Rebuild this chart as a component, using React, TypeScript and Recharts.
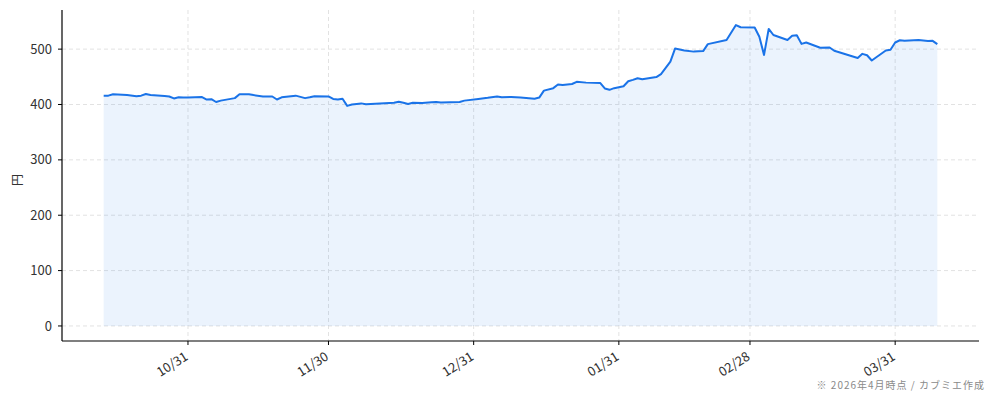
import {
  ComposedChart,
  Area,
  Line,
  XAxis,
  YAxis,
  CartesianGrid,
  Label,
} from 'recharts';

// 終値（円）: 2025/10 〜 2026/04
const dates = [
  '2025-10-13', '2025-10-14', '2025-10-15', '2025-10-18', '2025-10-20', '2025-10-21',
  '2025-10-22', '2025-10-23', '2025-10-26', '2025-10-27', '2025-10-28', '2025-10-29',
  '2025-10-30', '2025-10-31', '2025-11-03', '2025-11-04', '2025-11-05', '2025-11-06',
  '2025-11-07', '2025-11-10', '2025-11-11', '2025-11-13', '2025-11-14', '2025-11-16',
  '2025-11-18', '2025-11-19', '2025-11-20', '2025-11-23', '2025-11-25', '2025-11-26',
  '2025-11-27', '2025-11-30', '2025-12-01', '2025-12-02', '2025-12-03', '2025-12-04',
  '2025-12-05', '2025-12-07', '2025-12-08', '2025-12-10', '2025-12-14', '2025-12-15',
  '2025-12-16', '2025-12-17', '2025-12-18', '2025-12-20', '2025-12-22', '2025-12-23',
  '2025-12-24', '2025-12-28', '2025-12-29', '2026-01-01', '2026-01-03', '2026-01-05',
  '2026-01-06', '2026-01-08', '2026-01-10', '2026-01-13', '2026-01-14', '2026-01-15',
  '2026-01-17', '2026-01-18', '2026-01-19', '2026-01-21', '2026-01-22', '2026-01-24',
  '2026-01-27', '2026-01-28', '2026-01-29', '2026-01-30', '2026-02-01', '2026-02-02',
  '2026-02-03', '2026-02-04', '2026-02-05', '2026-02-08', '2026-02-09', '2026-02-11',
  '2026-02-12', '2026-02-14', '2026-02-16', '2026-02-18', '2026-02-19', '2026-02-23',
  '2026-02-25', '2026-02-26', '2026-03-01', '2026-03-02', '2026-03-03', '2026-03-04',
  '2026-03-05', '2026-03-08', '2026-03-09', '2026-03-10', '2026-03-11', '2026-03-12',
  '2026-03-15', '2026-03-17', '2026-03-18', '2026-03-23', '2026-03-24', '2026-03-25',
  '2026-03-26', '2026-03-29', '2026-03-30', '2026-03-31', '2026-04-01', '2026-04-02',
  '2026-04-05', '2026-04-07', '2026-04-08', '2026-04-09',
];

const prices = [
  416, 416, 418.5, 417, 415, 416,
  419, 417, 415.5, 414.5, 411, 413,
  412.5, 412.5, 413.5, 409, 409.5, 404.5,
  407, 411.5, 418.5, 418.5, 417, 414.5,
  414.5, 409, 413, 416, 411.5, 413,
  415, 414.5, 410, 409, 410.5, 397.5,
  400, 402, 400.5, 401.5, 403, 405,
  403, 401, 403, 402.5, 404, 404.5,
  403.5, 404.5, 407, 410, 412, 414.5,
  413, 413.5, 412.5, 410.5, 412.5, 425,
  429.5, 436, 435, 437, 441, 439.5,
  439, 429, 426.5, 429.5, 433, 442,
  444.5, 447.5, 445.5, 449.5, 455, 477.5,
  501, 497.5, 495.5, 496.5, 509, 516.5,
  543.5, 539.5, 539, 522.5, 489.5, 536.5,
  525.5, 516.5, 524, 525, 509.5, 512,
  502.5, 503, 497, 484, 491.5, 489,
  479.5, 497.5, 499, 512, 516, 515,
  516.5, 514.5, 515, 509,
];

const tickDates = ['2025-10-31', '2025-11-30', '2025-12-31', '2026-01-31', '2026-02-28', '2026-03-31'];
const yTicks = [0, 100, 200, 300, 400, 500];

const FONT = '"Noto Sans CJK JP", "Noto Sans", sans-serif';
const LINE = '#1a73e8';

const toDay = (s: string) => {
  const [y, m, d] = s.split('-').map(Number);
  return Date.UTC(y, m - 1, d) / 86400000;
};

const fmt = (day: number) => {
  const dt = new Date(day * 86400000);
  const mm = String(dt.getUTCMonth() + 1).padStart(2, '0');
  const dd = String(dt.getUTCDate()).padStart(2, '0');
  return `${mm}/${dd}`;
};

const data = dates.map((d, i) => ({ t: toDay(d), v: prices[i] }));
const xTicks = tickDates.map(toDay);

// matplotlib-like 5% margins
const tMin = data[0].t;
const tMax = data[data.length - 1].t;
const tPad = (tMax - tMin) * 0.05;
const vMax = Math.max(...prices);
const vPad = vMax * 0.05;
const xDomain = [tMin - tPad, tMax + tPad];
const yDomain = [-vPad, vMax + vPad];

// grid only at the tick positions (no lines on the plot edges)
const gridY = ({ offset }: any) =>
  yTicks.map((v) => offset.top + ((yDomain[1] - v) / (yDomain[1] - yDomain[0])) * offset.height);
const gridX = ({ offset }: any) =>
  xTicks.map((t) => offset.left + ((t - xDomain[0]) / (xDomain[1] - xDomain[0])) * offset.width);

const XTick = (props: any) => {
  const { x, y, payload } = props;
  return (
    <g transform={`translate(${x + 1},${y + 12}) rotate(-32)`}>
      <text x={0} y={0} textAnchor="end" fontSize={13} fill="#333" fontFamily={FONT}>
        {fmt(payload.value)}
      </text>
    </g>
  );
};

export default function App() {
  return (
    <div style={{ position: 'absolute', left: 0, top: 0, width: 994, height: 401, background: '#fff' }}>
      <ComposedChart
        width={994}
        height={401}
        data={data}
        margin={{ top: 10, right: 15, bottom: 0, left: 0 }}
      >
        <CartesianGrid
          stroke="#e2e2e2"
          strokeDasharray="4 3"
          horizontalCoordinatesGenerator={gridY}
          verticalCoordinatesGenerator={gridX}
        />
        <XAxis
          dataKey="t"
          type="number"
          domain={xDomain}
          ticks={xTicks}
          height={60}
          tickSize={4}
          tickMargin={2}
          tick={<XTick />}
          axisLine={{ stroke: '#000', strokeWidth: 1.2 }}
          tickLine={{ stroke: '#000' }}
          allowDataOverflow
        />
        <YAxis
          type="number"
          domain={yDomain}
          ticks={yTicks}
          width={62}
          tickSize={4}
          tickMargin={6}
          tick={{ fontSize: 13, fill: '#333', fontFamily: FONT }}
          axisLine={{ stroke: '#000', strokeWidth: 1.2 }}
          tickLine={{ stroke: '#000' }}
          allowDataOverflow
        >
          <Label
            content={() => (
              <text
                x={16}
                y={180}
                transform="rotate(-90 16 180)"
                textAnchor="middle"
                dominantBaseline="central"
                fontSize={12}
                fill="#333"
                fontFamily={FONT}
              >
                円
              </text>
            )}
          />
        </YAxis>
        <Area
          type="linear"
          dataKey="v"
          baseValue={0}
          stroke="none"
          fill={LINE}
          fillOpacity={0.085}
          isAnimationActive={false}
        />
        <Line
          type="linear"
          dataKey="v"
          stroke={LINE}
          strokeWidth={2}
          dot={false}
          activeDot={false}
          strokeLinejoin="round"
          isAnimationActive={false}
        />
      </ComposedChart>
      <div
        style={{
          position: 'absolute',
          right: 9,
          top: 377,
          fontSize: 10,
          letterSpacing: 1,
          color: '#8a8a8a',
          fontFamily: FONT,
          whiteSpace: 'nowrap',
        }}
      >
        ※ 2026年4月時点 / カブミエ作成
      </div>
    </div>
  );
}
